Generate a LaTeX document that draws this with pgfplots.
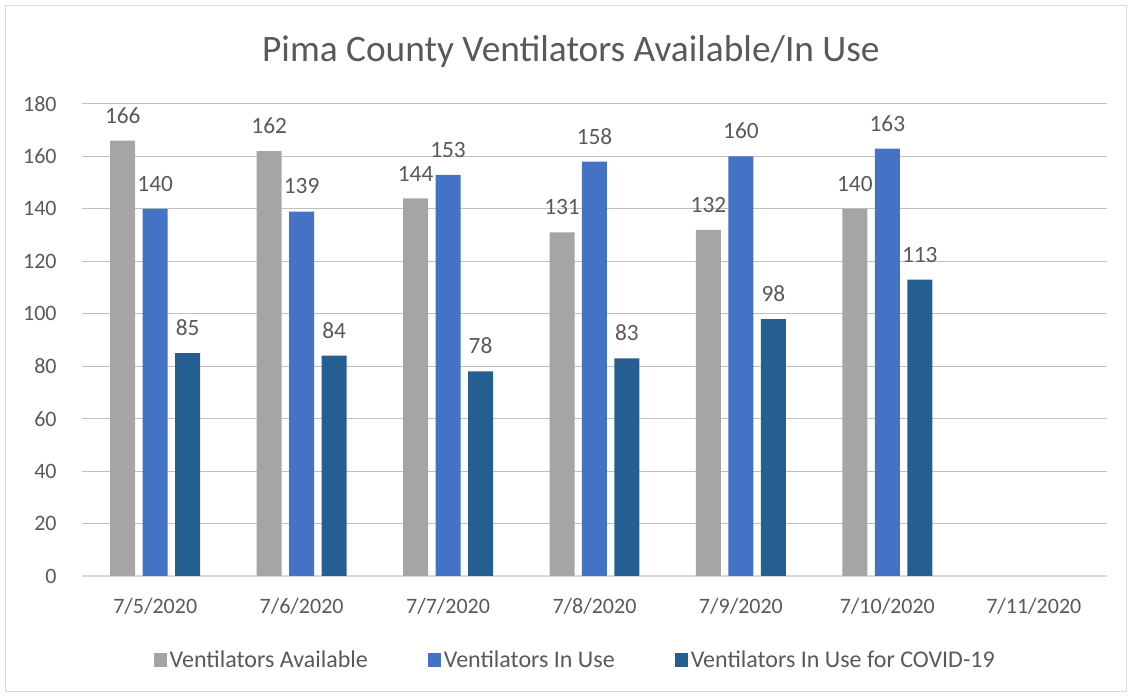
\documentclass[border=0pt]{standalone}
\usepackage{pgfplots}
\pgfplotsset{compat=1.18}
\usepackage{fontspec}
\setmainfont{Carlito}
\definecolor{txt}{HTML}{595959}
\definecolor{grid}{HTML}{D9D9D9}
\definecolor{cA}{HTML}{A5A5A5}
\definecolor{cB}{HTML}{4472C4}
\definecolor{cC}{HTML}{255E91}
\begin{document}
\begin{tikzpicture}
\useasboundingbox (-61.5pt,-91.5pt) rectangle (787.5pt,432pt);
\draw[grid, line width=0.75pt] (-57pt,-87pt) rectangle (783pt,427.5pt);
\begin{axis}[
  at={(0pt,0pt)}, anchor=south west,
  scale only axis, width=768.75pt, height=354pt,
  xmin=-0.5, xmax=6.5, ymin=0, ymax=180,
  ytick={0,20,...,180},
  xtick={0,...,6},
  xticklabels={7/5/2020,7/6/2020,7/7/2020,7/8/2020,7/9/2020,7/10/2020,7/11/2020},
  axis line style={draw=none},
  ymajorgrids, xmajorgrids=false, grid style={grid, line width=0.75pt},
  major tick length=0pt,
  tick style={draw=none},
  /pgf/number format/assume math mode=true,
  ticklabel style={font=\fontsize{16.5}{19}\selectfont, text=txt},
  yticklabel style={xshift=-15.5pt},
  xticklabel style={yshift=-13.5pt},
  ybar=5.6pt, bar width=18.75pt,
  nodes near coords,
  every node near coord/.append style={font=\fontsize{17.5}{20}\selectfont, text=txt, yshift=9.5pt},
  title={Pima County Ventilators Available/In Use},
  title style={font=\fontsize{28}{32}\selectfont, text=txt, at={(0.477,1)}, anchor=center, yshift=33pt},
  legend columns=-1,
  legend style={draw=none, at={(0.4815,-0.178)}, anchor=center, font=\fontsize{18}{21}\selectfont, text=txt,
    /tikz/every even column/.append style={column sep=43pt}},
  legend image code/.code={\fill[#1] (0pt,-5pt) rectangle (10pt,5pt);},
  clip=false,
]
\draw[grid, line width=1pt] (axis cs:-0.5,0) -- (axis cs:6.5,0);
\addplot[fill=cA, draw=none] coordinates {(0,166) (1,162) (2,144) (3,131) (4,132) (5,140)};
\addplot[fill=cB, draw=none] coordinates {(0,140) (1,139) (2,153) (3,158) (4,160) (5,163)};
\addplot[fill=cC, draw=none] coordinates {(0,85) (1,84) (2,78) (3,83) (4,98) (5,113)};
\legend{Ventilators Available, Ventilators In Use, Ventilators In Use for COVID-19}
\end{axis}
\end{tikzpicture}
\end{document}
